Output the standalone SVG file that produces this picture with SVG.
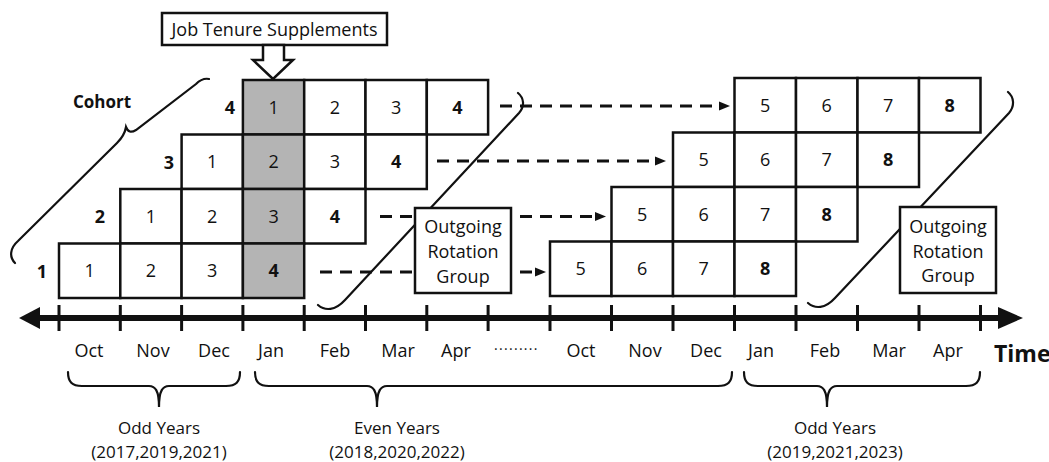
<svg xmlns="http://www.w3.org/2000/svg" width="1049" height="462" viewBox="0 0 1049 462">
<style>
text{font-family:"Open Sans","Liberation Sans",sans-serif;fill:#111;}
.n{font-size:18px;text-anchor:middle;}
.y{font-size:17px;text-anchor:middle;}
.b{font-weight:bold;}
.cell{fill:#fff;stroke:#111;stroke-width:2.5;}
.sh{fill:#b4b4b4;stroke:#111;stroke-width:2.5;}
.box{fill:#fff;stroke:#111;stroke-width:2.5;}
.dash{fill:none;stroke:#111;stroke-width:3;stroke-dasharray:12 8;}
.brace{fill:none;stroke:#111;stroke-width:2.2;stroke-linecap:round;}
.tick{stroke:#111;stroke-width:3;}
</style>
<defs>
<marker id="ah" markerUnits="userSpaceOnUse" markerWidth="11" markerHeight="10" refX="0" refY="5" orient="auto">
<path d="M0,0.5 L11,5 L0,9.5 z" fill="#111"/>
</marker>
</defs>

<!-- Left grid -->
<g id="left-grid">
<g id="L4-1"><rect class="sh" x="242.9" y="80" width="61.3" height="54.5"/><text class="n" x="273.55" y="113.75">1</text></g>
<g id="L4-2"><rect class="cell" x="304.2" y="80" width="61.3" height="54.5"/><text class="n" x="334.85" y="113.75">2</text></g>
<g id="L4-3"><rect class="cell" x="365.5" y="80" width="61.3" height="54.5"/><text class="n" x="396.15" y="113.75">3</text></g>
<g id="L4-4"><rect class="cell" x="426.8" y="80" width="61.3" height="54.5"/><text class="n b" x="457.45" y="113.75">4</text></g>

<g id="L3-1"><rect class="cell" x="181.6" y="134.5" width="61.3" height="54.5"/><text class="n" x="212.25" y="168.25">1</text></g>
<g id="L3-2"><rect class="sh" x="242.9" y="134.5" width="61.3" height="54.5"/><text class="n" x="273.55" y="168.25">2</text></g>
<g id="L3-3"><rect class="cell" x="304.2" y="134.5" width="61.3" height="54.5"/><text class="n" x="334.85" y="168.25">3</text></g>
<g id="L3-4"><rect class="cell" x="365.5" y="134.5" width="61.3" height="54.5"/><text class="n b" x="396.15" y="168.25">4</text></g>

<g id="L2-1"><rect class="cell" x="120.3" y="189" width="61.3" height="54.5"/><text class="n" x="150.95" y="222.75">1</text></g>
<g id="L2-2"><rect class="cell" x="181.6" y="189" width="61.3" height="54.5"/><text class="n" x="212.25" y="222.75">2</text></g>
<g id="L2-3"><rect class="sh" x="242.9" y="189" width="61.3" height="54.5"/><text class="n" x="273.55" y="222.75">3</text></g>
<g id="L2-4"><rect class="cell" x="304.2" y="189" width="61.3" height="54.5"/><text class="n b" x="334.85" y="222.75">4</text></g>

<g id="L1-1"><rect class="cell" x="59" y="243.5" width="61.3" height="54.5"/><text class="n" x="89.65" y="277.25">1</text></g>
<g id="L1-2"><rect class="cell" x="120.3" y="243.5" width="61.3" height="54.5"/><text class="n" x="150.95" y="277.25">2</text></g>
<g id="L1-3"><rect class="cell" x="181.6" y="243.5" width="61.3" height="54.5"/><text class="n" x="212.25" y="277.25">3</text></g>
<g id="L1-4"><rect class="sh" x="242.9" y="243.5" width="61.3" height="54.5"/><text class="n b" x="273.55" y="277.25">4</text></g>
</g>

<!-- Right grid -->
<g id="right-grid">
<g id="R4-5"><rect class="cell" x="734.5" y="78" width="61.5" height="54.5"/><text class="n" x="765.25" y="111.75">5</text></g>
<g id="R4-6"><rect class="cell" x="796" y="78" width="61.5" height="54.5"/><text class="n" x="826.75" y="111.75">6</text></g>
<g id="R4-7"><rect class="cell" x="857.5" y="78" width="61.5" height="54.5"/><text class="n" x="888.25" y="111.75">7</text></g>
<g id="R4-8"><rect class="cell" x="919" y="78" width="61.5" height="54.5"/><text class="n b" x="949.75" y="111.75">8</text></g>

<g id="R3-5"><rect class="cell" x="673" y="132.5" width="61.5" height="54.5"/><text class="n" x="703.75" y="166.25">5</text></g>
<g id="R3-6"><rect class="cell" x="734.5" y="132.5" width="61.5" height="54.5"/><text class="n" x="765.25" y="166.25">6</text></g>
<g id="R3-7"><rect class="cell" x="796" y="132.5" width="61.5" height="54.5"/><text class="n" x="826.75" y="166.25">7</text></g>
<g id="R3-8"><rect class="cell" x="857.5" y="132.5" width="61.5" height="54.5"/><text class="n b" x="888.25" y="166.25">8</text></g>

<g id="R2-5"><rect class="cell" x="611.5" y="187" width="61.5" height="54.5"/><text class="n" x="642.25" y="220.75">5</text></g>
<g id="R2-6"><rect class="cell" x="673" y="187" width="61.5" height="54.5"/><text class="n" x="703.75" y="220.75">6</text></g>
<g id="R2-7"><rect class="cell" x="734.5" y="187" width="61.5" height="54.5"/><text class="n" x="765.25" y="220.75">7</text></g>
<g id="R2-8"><rect class="cell" x="796" y="187" width="61.5" height="54.5"/><text class="n b" x="826.75" y="220.75">8</text></g>

<g id="R1-5"><rect class="cell" x="550" y="241.5" width="61.5" height="54.5"/><text class="n" x="580.75" y="275.25">5</text></g>
<g id="R1-6"><rect class="cell" x="611.5" y="241.5" width="61.5" height="54.5"/><text class="n" x="642.25" y="275.25">6</text></g>
<g id="R1-7"><rect class="cell" x="673" y="241.5" width="61.5" height="54.5"/><text class="n" x="703.75" y="275.25">7</text></g>
<g id="R1-8"><rect class="cell" x="734.5" y="241.5" width="61.5" height="54.5"/><text class="n b" x="765.25" y="275.25">8</text></g>
</g>

<!-- Cohort labels -->
<g id="cohort-labels">
<text class="n b" x="230" y="114">4</text>
<text class="n b" x="169" y="169">3</text>
<text class="n b" x="100" y="223">2</text>
<text class="n b" x="42" y="278">1</text>
<text class="b" x="102" y="108" font-size="17" text-anchor="middle">Cohort</text>
<path class="brace" d="M15,263 C9,257 10,248 18,241 L117,143 C122,138 125,133 126,127 C128,132 131,133 136,130 L196,84 C200,80 204,78 209,79"/>
</g>

<!-- Connectors -->
<g id="connectors">
<line class="dash" x1="500" y1="106" x2="719" y2="106" marker-end="url(#ah)"/>
<line class="dash" x1="437" y1="161" x2="655" y2="161" marker-end="url(#ah)"/>
<line class="dash" x1="380" y1="216.5" x2="595" y2="216.5" marker-end="url(#ah)"/>
<line class="dash" x1="320" y1="272" x2="535" y2="272" marker-end="url(#ah)"/>
</g>

<!-- Outgoing brackets -->
<path class="brace" d="M518,93 C524,98 525,106 519,113 L345,300 C335,311 325,311 318,305"/>
<path class="brace" d="M1008,92 C1014,97 1015,106 1009,113 L835,298 C825,309 815,309 808,303"/>

<g id="outgoing-1">
<rect class="box" x="415" y="208" width="96" height="85"/>
<text class="n" x="463" y="233">Outgoing</text>
<text class="n" x="463" y="258">Rotation</text>
<text class="n" x="463" y="283">Group</text>
</g>
<g id="outgoing-2">
<rect class="box" x="900" y="207" width="96" height="86"/>
<text class="n" x="948" y="233">Outgoing</text>
<text class="n" x="948" y="258">Rotation</text>
<text class="n" x="948" y="282">Group</text>
</g>

<!-- Job Tenure Supplements -->
<g id="job-tenure">
<rect class="box" x="162" y="13" width="225" height="32"/>
<text class="n" x="274.5" y="36">Job Tenure Supplements</text>
<polygon points="263,45 263,60 253,60 273,79 293,60 284,60 284,45" fill="#fff" stroke="#111" stroke-width="2.5" stroke-linejoin="miter"/>
</g>

<!-- Time axis -->
<g id="axis">
<line x1="36" y1="318" x2="1002" y2="318" stroke="#111" stroke-width="6"/>
<polygon points="19,318 40,307 40,329" fill="#111"/>
<polygon points="1023,318 998,307 998,329" fill="#111"/>
<line class="tick" x1="59" y1="305" x2="59" y2="331"/>
<line class="tick" x1="120.3" y1="305" x2="120.3" y2="331"/>
<line class="tick" x1="181.6" y1="305" x2="181.6" y2="331"/>
<line class="tick" x1="242.9" y1="305" x2="242.9" y2="331"/>
<line class="tick" x1="304.2" y1="305" x2="304.2" y2="331"/>
<line class="tick" x1="365.5" y1="305" x2="365.5" y2="331"/>
<line class="tick" x1="426.8" y1="305" x2="426.8" y2="331"/>
<line class="tick" x1="488.1" y1="305" x2="488.1" y2="331"/>
<line class="tick" x1="550" y1="305" x2="550" y2="331"/>
<line class="tick" x1="611.5" y1="305" x2="611.5" y2="331"/>
<line class="tick" x1="673" y1="305" x2="673" y2="331"/>
<line class="tick" x1="734.5" y1="305" x2="734.5" y2="331"/>
<line class="tick" x1="796" y1="305" x2="796" y2="331"/>
<line class="tick" x1="857.5" y1="305" x2="857.5" y2="331"/>
<line class="tick" x1="919" y1="305" x2="919" y2="331"/>
<line class="tick" x1="980.5" y1="305" x2="980.5" y2="331"/>
</g>

<g id="months">
<text class="n" x="89" y="357">Oct</text>
<text class="n" x="153" y="357">Nov</text>
<text class="n" x="214" y="357">Dec</text>
<text class="n" x="271" y="357">Jan</text>
<text class="n" x="335" y="357">Feb</text>
<text class="n" x="398" y="357">Mar</text>
<text class="n" x="456" y="357">Apr</text>
<text x="494" y="350" font-size="14" letter-spacing="1.3">.........</text>
<text class="n" x="581" y="357">Oct</text>
<text class="n" x="645" y="357">Nov</text>
<text class="n" x="706" y="357">Dec</text>
<text class="n" x="761" y="357">Jan</text>
<text class="n" x="825" y="357">Feb</text>
<text class="n" x="889" y="357">Mar</text>
<text class="n" x="948" y="357">Apr</text>
<text class="b" x="994" y="362" font-size="23">Time</text>
</g>

<!-- Year braces -->
<g id="odd-years-1">
<path class="brace" d="M68,372 C68,382 72,386 82,386 L149,386 C155,386 159,390 159,407 C159,390 163,386 169,386 L226,386 C236,386 240,382 240,372"/>
<text class="y" x="159" y="434">Odd Years</text>
<text class="y" x="159" y="458">(2017,2019,2021)</text>
</g>
<g id="even-years">
<path class="brace" d="M255,372 C255,382 259,386 269,386 L367,386 C373,386 377,390 377,407 C377,390 381,386 387,386 L718,386 C728,386 732,382 732,372"/>
<text class="y" x="397" y="434">Even Years</text>
<text class="y" x="397" y="458">(2018,2020,2022)</text>
</g>
<g id="odd-years-2">
<path class="brace" d="M744,372 C744,382 748,386 758,386 L817,386 C823,386 827,390 827,407 C827,390 831,386 837,386 L966,386 C976,386 980,382 980,372"/>
<text class="y" x="835" y="434">Odd Years</text>
<text class="y" x="835" y="458">(2019,2021,2023)</text>
</g>
</svg>
